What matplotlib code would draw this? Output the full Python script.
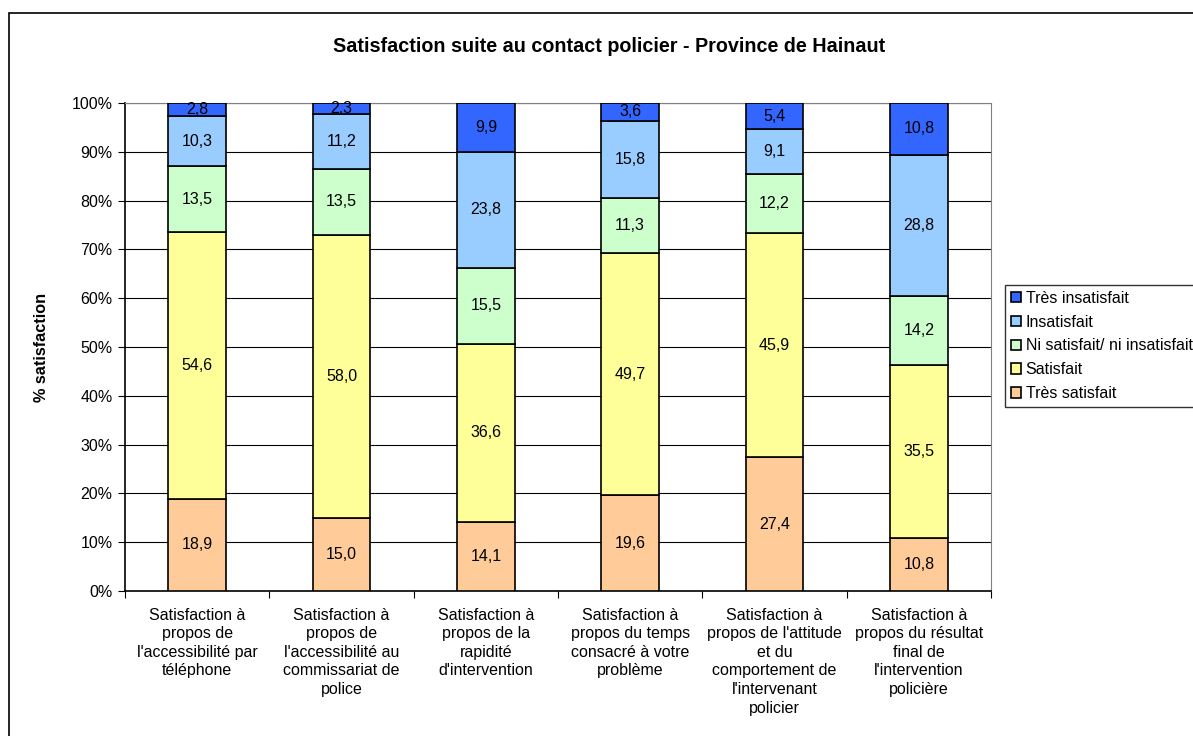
import numpy as np
import matplotlib
matplotlib.use('Agg')
import matplotlib.pyplot as plt
from matplotlib.patches import Rectangle

plt.rcParams['font.family'] = ['Liberation Sans', 'DejaVu Sans']

# categories (x axis)
categories = [
    "Satisfaction à\npropos de\nl'accessibilité par\ntéléphone",
    "Satisfaction à\npropos de\nl'accessibilité au\ncommissariat de\npolice",
    "Satisfaction à\npropos de la\nrapidité\nd'intervention",
    "Satisfaction à\npropos du temps\nconsacré à votre\nproblème",
    "Satisfaction à\npropos de l'attitude\net du\ncomportement de\nl'intervenant\npolicier",
    "Satisfaction à\npropos du résultat\nfinal de\nl'intervention\npolicière",
]

# series values (%) from bottom to top
tres_satisfait = [18.9, 15.0, 14.1, 19.6, 27.4, 10.8]
satisfait = [54.6, 58.0, 36.6, 49.7, 45.9, 35.5]
ni_ni = [13.5, 13.5, 15.5, 11.3, 12.2, 14.2]
insatisfait = [10.3, 11.2, 23.8, 15.8, 9.1, 28.8]
tres_insatisfait = [2.8, 2.3, 9.9, 3.6, 5.4, 10.8]

series = [
    ("Très satisfait", tres_satisfait, "#FFCC99"),
    ("Satisfait", satisfait, "#FFFF99"),
    ("Ni satisfait/ ni insatisfait", ni_ni, "#CCFFCC"),
    ("Insatisfait", insatisfait, "#99CCFF"),
    ("Très insatisfait", tres_insatisfait, "#3366FF"),
]

fig = plt.figure(figsize=(11.93, 7.36), dpi=100)
ax = fig.add_axes([125 / 1193, 1 - 591 / 736, (991 - 125) / 1193, (591 - 103) / 736])

# outer chart border
fig.patches.append(Rectangle((9 / 1193, -0.1), 1.2, 1 - 13 / 736 + 0.1,
                             transform=fig.transFigure, fill=False,
                             edgecolor='black', linewidth=1.2))

x = np.arange(len(categories))
bottom = np.zeros(len(categories))
handles = []
for name, vals, col in series:
    vals = np.array(vals)
    bars = ax.bar(x, vals, 0.4, bottom=bottom, color=col, edgecolor='black',
                  linewidth=1.2, label=name, zorder=3)
    handles.append(bars)
    for xi, b, v in zip(x, bottom, vals):
        ax.text(xi, b + v / 2, f"{v:.1f}".replace('.', ','), ha='center',
                va='center', fontsize=11.5, zorder=4)
    bottom += vals

ax.set_xlim(-0.5, len(categories) - 0.5)
ax.set_ylim(0, 100)
ax.set_yticks(np.arange(0, 101, 10))
ax.set_yticklabels([f"{t}%" for t in range(0, 101, 10)], fontsize=11.5)
ax.yaxis.grid(True, color='black', linewidth=0.8, zorder=0)

ax.set_xticks(np.arange(-0.5, len(categories), 1))
ax.set_xticklabels([])
ax.set_xticks(x, minor=True)
ax.set_xticklabels(categories, minor=True, fontsize=11.5, linespacing=1.3,
                   va='top')
ax.tick_params(axis='x', which='minor', length=0, pad=12)
ax.tick_params(axis='x', which='major', length=5, direction='out')
ax.tick_params(axis='y', length=5, direction='out', pad=4)

for s in ['top', 'right']:
    ax.spines[s].set_color('#808080')
for s in ['left', 'bottom']:
    ax.spines[s].set_color('black')
    ax.spines[s].set_linewidth(1.2)

ax.set_ylabel("% satisfaction", fontsize=11.7, fontweight='bold', labelpad=16)

fig.text(609 / 1193, 1 - 47 / 736, "Satisfaction suite au contact policier - Province de Hainaut",
         ha='center', va='center', fontsize=14.2, fontweight='bold')

leg = fig.legend(handles[::-1], [s[0] for s in series][::-1],
                 loc='upper left', bbox_to_anchor=(1005 / 1193, 1 - 285 / 736),
                 fontsize=11.5, frameon=True, fancybox=False, edgecolor='black',
                 borderaxespad=0, handlelength=0.65, handleheight=0.65,
                 handletextpad=0.3, labelspacing=0.56, borderpad=0.35)
leg.get_frame().set_linewidth(1.0)

fig.savefig('out.png', dpi=100)
